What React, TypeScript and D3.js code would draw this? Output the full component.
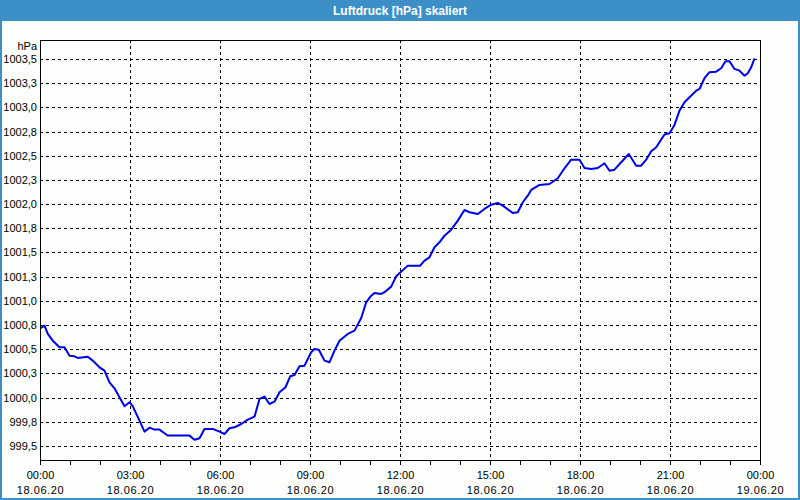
import React from "react";
import * as d3 from "d3";

const hours = [0, 0.133, 0.243, 0.41, 0.633, 0.8, 0.967, 1.133, 1.243, 1.577, 1.743, 1.967, 2.133, 2.3, 2.467, 2.633, 2.8, 2.967, 3.077, 3.3, 3.467, 3.633, 3.8, 3.967, 4.133, 4.243, 4.967, 5.133, 5.3, 5.467, 5.743, 5.967, 6.133, 6.3, 6.467, 6.69, 6.91, 7.133, 7.3, 7.467, 7.633, 7.8, 7.967, 8.167, 8.323, 8.467, 8.633, 8.8, 9.023, 9.133, 9.277, 9.467, 9.633, 9.8, 9.967, 10.243, 10.467, 10.69, 10.857, 11.023, 11.133, 11.357, 11.467, 11.69, 11.857, 12.243, 12.657, 12.8, 12.967, 13.133, 13.3, 13.467, 13.69, 13.91, 14.133, 14.3, 14.577, 14.8, 15.023, 15.243, 15.41, 15.743, 15.91, 16.077, 16.243, 16.357, 16.633, 16.967, 17.243, 17.467, 17.69, 17.967, 18.133, 18.357, 18.577, 18.8, 18.967, 19.133, 19.357, 19.61, 19.857, 20.023, 20.19, 20.357, 20.523, 20.8, 20.967, 21.133, 21.3, 21.467, 21.633, 21.857, 21.967, 22.133, 22.3, 22.523, 22.69, 22.833, 22.967, 23.133, 23.3, 23.467, 23.577, 23.69, 23.8];

const pressure = [1000.717, 1000.743, 1000.658, 1000.588, 1000.52, 1000.52, 1000.433, 1000.427, 1000.41, 1000.423, 1000.382, 1000.313, 1000.278, 1000.158, 1000.096, 1000.003, 999.91, 999.952, 999.91, 999.762, 999.648, 999.689, 999.669, 999.669, 999.631, 999.607, 999.607, 999.565, 999.58, 999.676, 999.676, 999.648, 999.624, 999.683, 999.693, 999.727, 999.772, 999.803, 999.986, 1000.01, 999.934, 999.958, 1000.055, 1000.107, 1000.22, 1000.234, 1000.324, 1000.33, 1000.468, 1000.503, 1000.495, 1000.382, 1000.365, 1000.485, 1000.588, 1000.658, 1000.692, 1000.823, 1000.985, 1001.053, 1001.081, 1001.071, 1001.089, 1001.147, 1001.254, 1001.364, 1001.364, 1001.415, 1001.45, 1001.554, 1001.605, 1001.674, 1001.736, 1001.829, 1001.939, 1001.916, 1001.898, 1001.95, 1001.994, 1002.012, 1001.984, 1001.908, 1001.916, 1002.019, 1002.087, 1002.146, 1002.198, 1002.208, 1002.267, 1002.37, 1002.459, 1002.459, 1002.373, 1002.363, 1002.373, 1002.422, 1002.345, 1002.356, 1002.432, 1002.518, 1002.397, 1002.397, 1002.459, 1002.546, 1002.587, 1002.72, 1002.732, 1002.818, 1002.966, 1003.052, 1003.104, 1003.172, 1003.19, 1003.301, 1003.363, 1003.369, 1003.404, 1003.476, 1003.476, 1003.397, 1003.379, 1003.327, 1003.352, 1003.414, 1003.507];

const yTicks = [999.5, 999.75, 1000, 1000.25, 1000.5, 1000.75, 1001, 1001.25, 1001.5, 1001.75, 1002, 1002.25, 1002.5, 1002.75, 1003, 1003.25, 1003.5];
const xTickHours = [0, 3, 6, 9, 12, 15, 18, 21, 24];
const timeLabels = ["00:00", "03:00", "06:00", "09:00", "12:00", "15:00", "18:00", "21:00", "00:00"];
const dateLabels = ["18.06.20", "18.06.20", "18.06.20", "18.06.20", "18.06.20", "18.06.20", "18.06.20", "18.06.20", "19.06.20"];
const minorHours = d3.range(0, 25, 1);

const title = "Luftdruck [hPa] skaliert";
const unit = "hPa";

export default function App() {
  const W = 800, H = 500;
  const left = 40, right = 760, top = 40, bottom = 460;
  const x = d3.scaleLinear().domain([0, 24]).range([left, right]);
  const y = d3.scaleLinear().domain([999.355, 1003.696]).range([bottom, top]);
  const line = d3.line<number>().x((_, i) => x(hours[i]) + 0.5).y((d) => y(d));
  const fmt = (v: number) => v.toFixed(1).replace(".", ",");
  const font = "'Liberation Sans', Arial, sans-serif";
  const blue = "#3d8fc8";

  return (
    <svg width={W} height={H} style={{ position: "absolute", left: 0, top: 0, display: "block" }} fontFamily={font}>
      <rect x={0} y={0} width={W} height={H} fill="#fbfefb" />
      <rect x={1} y={1} width={W - 2} height={H - 2} fill="none" stroke={blue} strokeWidth={2} />
      <rect x={0} y={0} width={W} height={21} fill={blue} />
      <text x={W / 2} y={15} textAnchor="middle" fill="#ffffff" fontWeight="bold" fontSize={12}>{title}</text>

      {/* grid */}
      {yTicks.map((t) => (
        <line key={"gy" + t} x1={left} x2={right} y1={Math.round(y(t)) + 0.5} y2={Math.round(y(t)) + 0.5} stroke="#000" strokeDasharray="3,3" strokeWidth={1} />
      ))}
      {xTickHours.slice(1, -1).map((h) => (
        <line key={"gx" + h} x1={Math.round(x(h)) + 0.5} x2={Math.round(x(h)) + 0.5} y1={top} y2={bottom} stroke="#000" strokeDasharray="3,3" strokeWidth={1} />
      ))}

      {/* data line */}
      <path d={line(pressure) || ""} fill="none" stroke="#0000e8" strokeWidth={2} strokeLinejoin="round" />

      {/* frame */}
      <rect x={left + 0.5} y={top + 0.5} width={right - left} height={bottom - top} fill="none" stroke="#000" strokeWidth={1} />

      {/* minor ticks */}
      {minorHours.map((h) => (
        <line key={"mt" + h} x1={Math.round(x(h)) + 0.5} x2={Math.round(x(h)) + 0.5} y1={bottom + 1} y2={bottom + 5} stroke="#000" strokeWidth={1} />
      ))}

      {/* y labels */}
      <text x={37} y={50} textAnchor="end" fontSize={11} fill="#000">{unit}</text>
      {yTicks.map((t) => (
        <text key={"yl" + t} x={37} y={y(t) + 4} textAnchor="end" fontSize={11} fill="#000">{fmt(t)}</text>
      ))}

      {/* x labels */}
      {xTickHours.map((h, i) => (
        <g key={"xl" + h}>
          <text x={x(h) + 0.5} y={479} textAnchor="middle" fontSize={11} fill="#000">{timeLabels[i]}</text>
          <text x={x(h) + 0.5} y={494} textAnchor="middle" fontSize={11} fill="#000" letterSpacing={0.6}>{dateLabels[i]}</text>
        </g>
      ))}
    </svg>
  );
}
